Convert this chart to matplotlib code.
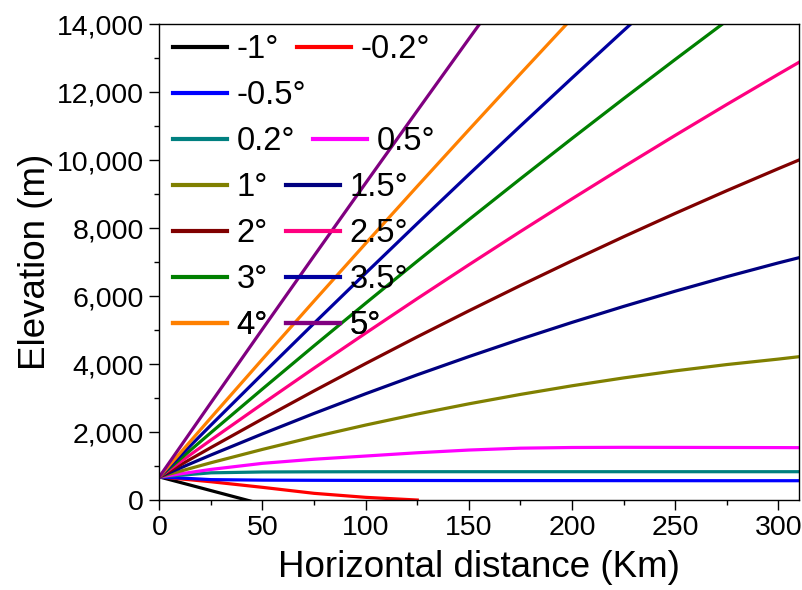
import numpy as np
import matplotlib
matplotlib.use('Agg')
import matplotlib.pyplot as plt
from matplotlib.lines import Line2D
from matplotlib.ticker import MultipleLocator, StrMethodFormatter

plt.rcParams['font.family'] = ['Liberation Sans', 'DejaVu Sans']

nan = np.nan

# horizontal distance (km) where the curves were read
dist = [0, 25, 50, 75, 100, 125, 150, 175, 200, 225, 250, 275, 300, 310]

# beam elevation (m) for each elevation angle
elev_m1 = [680, 278, -124, nan, nan, nan, nan, nan, nan, nan, nan, nan, nan, nan]
elev_m02 = [680, 538, 373, 197, 79, 0, nan, nan, nan, nan, nan, nan, nan, nan]
elev_m05 = [680, 600, 585, 580, 577, 575, 573, 572, 571, 570, 569, 568, 568, 568]
elev_02 = [680, 800, 825, 830, 832, 833, 833, 833, 833, 833, 833, 833, 833, 833]
elev_05 = [680, 900, 1079, 1200, 1294, 1390, 1470, 1525, 1545, 1550, 1548, 1545, 1542, 1540]
elev_1 = [680, 1096, 1489, 1859, 2205, 2529, 2829, 3106, 3360, 3591, 3799, 3984, 4145, 4215]
elev_15 = [680, 1324, 1946, 2547, 3126, 3683, 4218, 4732, 5224, 5694, 6142, 6569, 6974, 7127]
elev_2 = [680, 1543, 2386, 3210, 4014, 4799, 5564, 6310, 7036, 7743, 8430, 9098, 9746, 10000]
elev_25 = [680, 1764, 2830, 3879, 4909, 5923, 6918, 7897, 8857, 9800, 10725, 11633, 12523, 12874]
elev_3 = [680, 1982, 3267, 4536, 5788, 7024, 8244, 9447, 10634, 11804, 12957, 14095, nan, nan]
elev_35 = [680, 2202, 3708, 5199, 6673, 8132, 9574, 11001, 12412, 13807, 15186, nan, nan, nan]
elev_4 = [680, 2420, 4144, 5854, 7547, 9226, 10888, 12536, 14168, nan, nan, nan, nan, nan]
elev_5 = [680, 2861, 5028, 7182, 9322, 11449, 13562, 15662, nan, nan, nan, nan, nan, nan]

labels = ['-1°', '-0.2°', '-0.5°', '0.2°', '0.5°', '1°', '1.5°',
          '2°', '2.5°', '3°', '3.5°', '4°', '5°']
series = [elev_m1, elev_m02, elev_m05, elev_02, elev_05, elev_1, elev_15,
          elev_2, elev_25, elev_3, elev_35, elev_4, elev_5]
colors = ['#000000', '#FF0000', '#0000FF', '#008080', '#FF00FF', '#808000', '#000080',
          '#800000', '#FF0080', '#008000', '#0000A0', '#FF8000', '#800080']

# legend rows as in the original (label indexes)
legend_rows = [[0, 1], [2], [3, 4], [5, 6], [7, 8], [9, 10], [11, 12]]

fig = plt.figure(figsize=(8.03, 5.90), dpi=100)
ax = fig.add_axes([0.1984, 0.1525, 0.7966, 0.8068])

for vals, lab, col in zip(series, labels, colors):
    ax.plot(dist, vals, color=col, lw=2.3, label=lab)

ax.set_xlim(0, 310)
ax.set_ylim(0, 14000)
ax.xaxis.set_major_locator(MultipleLocator(50))
ax.xaxis.set_minor_locator(MultipleLocator(25))
ax.yaxis.set_major_locator(MultipleLocator(2000))
ax.yaxis.set_minor_locator(MultipleLocator(1000))
ax.yaxis.set_major_formatter(StrMethodFormatter('{x:,.0f}'))
ax.tick_params(which='major', direction='out', length=7, width=1.0, labelsize=20.5, pad=4)
ax.tick_params(which='minor', direction='out', length=3.5, width=1.0)
for sp in ax.spines.values():
    sp.set_linewidth(1.0)

ax.set_xlabel('Horizontal distance (Km)', fontsize=26.5, labelpad=6)
ax.set_ylabel('Elevation (m)', fontsize=26.5, labelpad=3)

# one legend per row so the second column follows the first label width
row_top = 0.946
row_step = 0.0966
for i, row in enumerate(legend_rows):
    handles = [Line2D([], [], color=colors[k], lw=3) for k in row]
    leg = ax.legend(handles, [labels[k] for k in row], ncol=2,
                    loc='center left', bbox_to_anchor=(0.0214, row_top - i * row_step),
                    frameon=False, fontsize=23.5, borderpad=0, borderaxespad=0,
                    handlelength=1.65, handletextpad=0.3, columnspacing=0.56)
    ax.add_artist(leg)

fig.savefig('out.png', dpi=100)
